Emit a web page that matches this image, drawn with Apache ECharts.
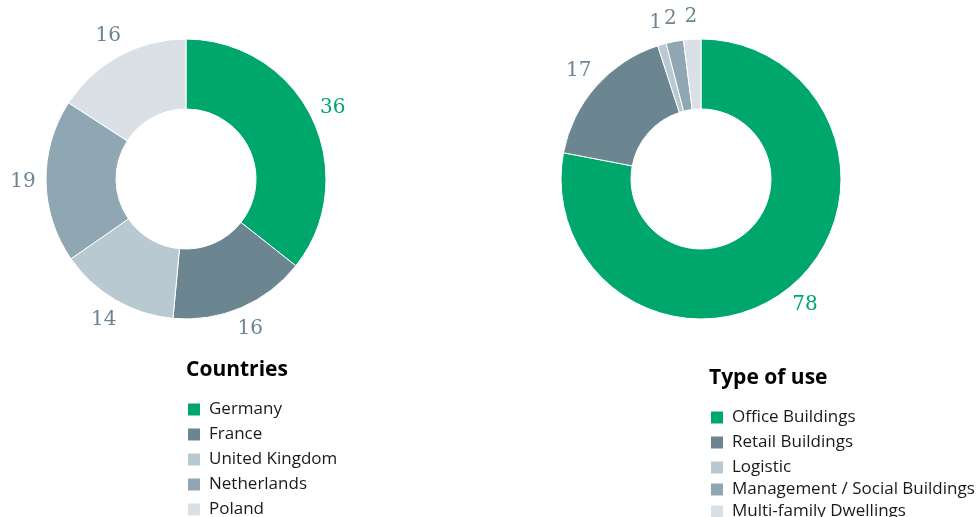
<!DOCTYPE html>
<html>
<head>
<meta charset="utf-8">
<script src="https://cdn.jsdelivr.net/npm/echarts@6/dist/echarts.min.js"></script>
<style>
  html, body { margin: 0; padding: 0; background: #fff; }
  #chart { width: 976px; height: 517px; }
</style>
</head>
<body>
<div id="chart"></div>
<script>
var countryNames = ['Germany', 'France', 'United Kingdom', 'Netherlands', 'Poland'];
var countryValues = [36, 16, 14, 19, 16];
var useNames = ['Office Buildings', 'Retail Buildings', 'Logistic', 'Management / Social Buildings', 'Multi-family Dwellings'];
var useValues = [78, 17, 1, 2, 2];
var palette = ['#00a76d', '#6b8691', '#b8c9d1', '#8fa7b2', '#d9e1e7'];

var labelGrey = '#6b8691';
var sans = '"Open Sans", "Noto Sans", sans-serif';

function pieData(names, values, withLabel) {
    var out = [];
    for (var i = 0; i < names.length; i++) {
        var d = { name: names[i], value: values[i] };
        if (withLabel) {
            d.label = { color: i === 0 ? palette[0] : labelGrey };
        } else {
            d.itemStyle = { color: palette[i] };
        }
        out.push(d);
    }
    return out;
}

// the ring itself
function donut(center, names, values) {
    return {
        type: 'pie',
        center: center,
        radius: [70, 140],
        startAngle: 90,
        silent: true,
        itemStyle: { borderColor: '#fff', borderWidth: 1 },
        label: { show: false },
        labelLine: { show: false },
        data: pieData(names, values, false)
    };
}

// invisible outer ring that only carries the value labels
function labelRing(center, names, values) {
    return {
        type: 'pie',
        center: center,
        radius: [140, 180],
        startAngle: 90,
        silent: true,
        itemStyle: { color: 'rgba(0,0,0,0)' },
        label: {
            show: true,
            position: 'inside',
            formatter: '{c}',
            fontFamily: '"DejaVu Serif", serif',
            fontSize: 20,
            overflow: 'none'
        },
        labelLine: { show: false },
        data: pieData(names, values, true)
    };
}

var legendText = { fontFamily: sans, fontSize: 17, color: '#1a1a1a', padding: [0, 0, 0, 3] };

function legend(left, top, gap, names) {
    return {
        orient: 'vertical', left: left, top: top, height: 300, padding: 0,
        itemWidth: 14, itemHeight: 14, itemGap: gap,
        icon: 'rect', selectedMode: false, textStyle: legendText, data: names
    };
}

var option = {
    animation: false,
    title: [
        { text: 'Countries', left: 186, top: 360, padding: 0,
          textStyle: { fontFamily: sans, fontSize: 21, fontWeight: 'bold', color: '#000' } },
        { text: 'Type of use', left: 709, top: 368, padding: 0,
          textStyle: { fontFamily: sans, fontSize: 21, fontWeight: 'bold', color: '#000' } }
    ],
    legend: [
        legend(186, 401, 8, countryNames),
        legend(709, 409, 8, useNames.slice(0, 3)),
        legend(709, 481, 5, useNames.slice(3))
    ],
    series: [
        donut([186, 179], countryNames, countryValues),
        donut([701, 179], useNames, useValues),
        labelRing([186, 179], countryNames, countryValues),
        labelRing([701, 179], useNames, useValues)
    ]
};

var myChart = echarts.init(document.getElementById('chart'));
myChart.setOption(option);
</script>
</body>
</html>
